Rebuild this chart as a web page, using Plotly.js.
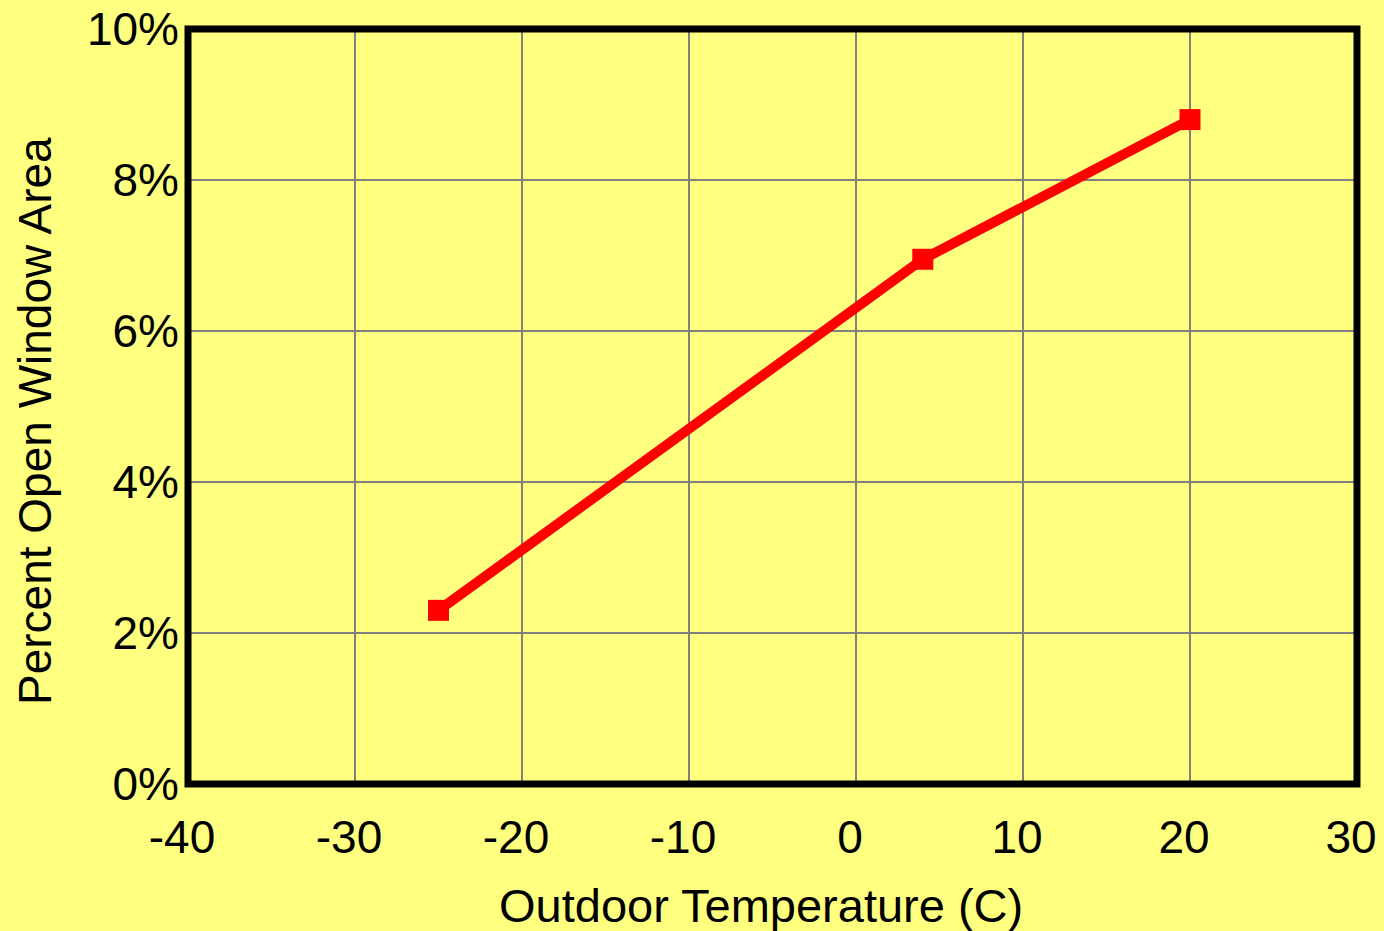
<!DOCTYPE html>
<html>
<head>
<meta charset="utf-8">
<script src="https://cdn.plot.ly/plotly-3.0.1.min.js"></script>
<style>html,body{margin:0;padding:0;background:#FFFF80;}#chart{width:1384px;height:931px;}</style>
</head>
<body>
<div id="chart"></div>
<script>
const temperatures = [-25, 4, 20];
const openAreaPct = [2.3, 6.95, 8.8];
const xTicks = [-40, -30, -20, -10, 0, 10, 20, 30];
const yTicks = [0, 2, 4, 6, 8, 10];
const xTitle = 'Outdoor Temperature (C)';
const yTitle = 'Percent Open Window Area';

const font = {family: 'Liberation Sans, Arial, sans-serif', color: '#000'};

Plotly.newPlot('chart', [{
  x: temperatures,
  y: openAreaPct,
  type: 'scatter',
  mode: 'lines+markers',
  line: {color: '#FF0000', width: 10},
  marker: {symbol: 'square', size: 21, color: '#FF0000'},
  showlegend: false,
  hoverinfo: 'x+y'
}], {
  width: 1384, height: 931,
  paper_bgcolor: '#FFFF80',
  plot_bgcolor: '#FFFF80',
  margin: {l: 188, r: 27, t: 29, b: 147},
  font: Object.assign({size: 46}, font),
  shapes: [{
    type: 'rect', xref: 'paper', yref: 'paper', x0: 0, x1: 1, y0: 0, y1: 1,
    line: {color: '#000', width: 7}, layer: 'above'
  }],
  annotations: [
    {text: xTitle, xref: 'paper', yref: 'paper', x: 0.490, y: -0.1603,
     xanchor: 'center', yanchor: 'middle', showarrow: false,
     font: Object.assign({size: 47}, font)},
    {text: yTitle, xref: 'paper', yref: 'paper', x: -0.1309, y: 0.4808,
     xanchor: 'center', yanchor: 'middle', showarrow: false, textangle: -90,
     font: Object.assign({size: 46}, font)}
  ],
  xaxis: {
    range: [-40, 30],
    tickvals: xTicks,
    ticktext: xTicks.map(String),
    showgrid: true, gridcolor: '#808080', gridwidth: 2,
    zeroline: false,
    showline: false,
    ticks: '', ticklabelstandoff: 22, ticklabelshift: -6, ticklabeloverflow: 'allow',
    tickfont: Object.assign({size: 46}, font)
  },
  yaxis: {
    range: [0, 10],
    tickvals: yTicks,
    ticktext: yTicks.map(v => v + '%'),
    showgrid: true, gridcolor: '#808080', gridwidth: 2,
    zeroline: false,
    showline: false,
    ticks: '', ticklabelstandoff: 8, ticklabeloverflow: 'allow',
    tickfont: Object.assign({size: 46}, font)
  }
}, {displayModeBar: false});
</script>
</body>
</html>
